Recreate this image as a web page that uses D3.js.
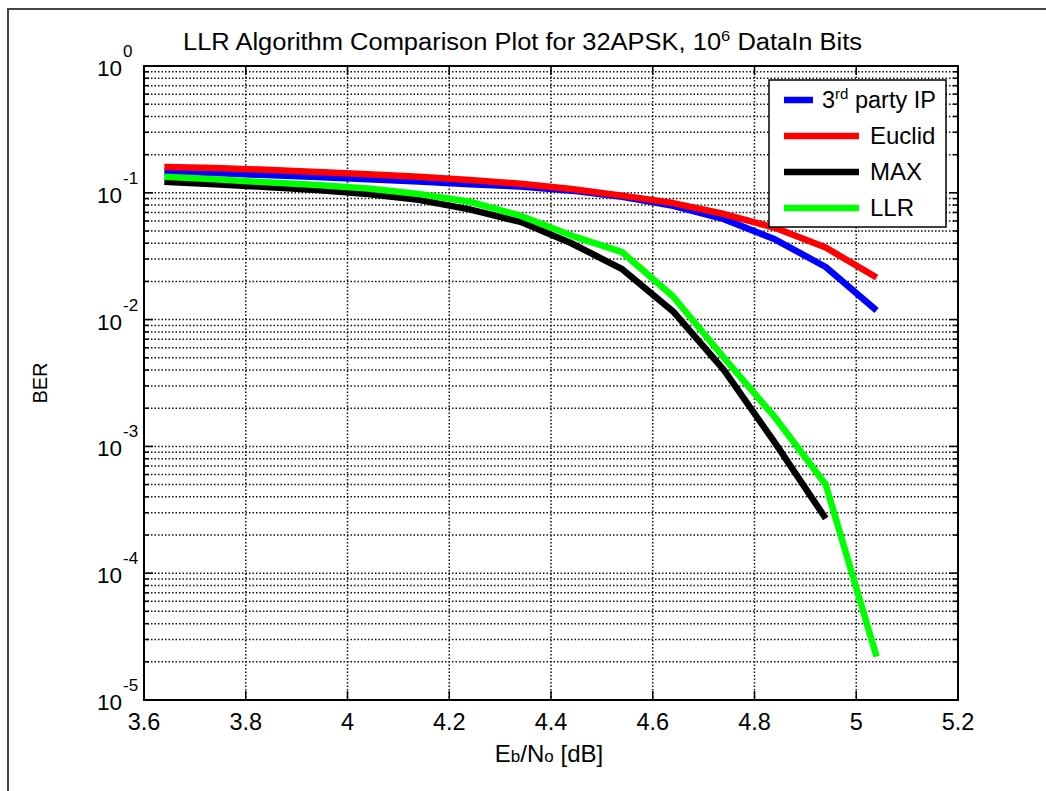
<!DOCTYPE html>
<html>
<head>
<meta charset="utf-8">
<script src="https://cdn.jsdelivr.net/npm/d3@7"></script>
<style>
  body { margin: 0; background: #fff; }
  text { font-family: "Liberation Sans", Arial, sans-serif; fill: #000; }
</style>
</head>
<body>
<svg id="chart" width="1046" height="791"></svg>
<script>
// Eb/No operating points [dB]
const ebno = [3.64, 3.74, 3.84, 3.94, 4.04, 4.14, 4.24, 4.34, 4.44, 4.54, 4.64, 4.74, 4.84, 4.94, 5.04];

// Bit error rates per demapper
const berThirdParty = [0.146, 0.143, 0.138, 0.133, 0.128, 0.123, 0.117, 0.112, 0.104, 0.093, 0.079, 0.062, 0.043, 0.026, 0.0118];
const berEuclid     = [0.160, 0.157, 0.152, 0.146, 0.140, 0.134, 0.126, 0.118, 0.107, 0.095, 0.083, 0.068, 0.053, 0.037, 0.0215];
const berMax        = [0.122, 0.117, 0.111, 0.105, 0.098, 0.088, 0.074, 0.059, 0.040, 0.025, 0.0116, 0.0040, 0.00107, 0.00027];
const berLlr        = [0.134, 0.128, 0.121, 0.115, 0.108, 0.098, 0.085, 0.066, 0.046, 0.034, 0.0152, 0.0050, 0.0017, 0.00050, 0.000022];

const seriesNames = ["3rd party IP", "Euclid", "MAX", "LLR"];
const seriesColors = ["#0000ff", "#ff0000", "#000000", "#00ff00"];
const seriesData = [berThirdParty, berEuclid, berMax, berLlr];

const xTicks = [3.6, 3.8, 4.0, 4.2, 4.4, 4.6, 4.8, 5.0, 5.2];
const xTickLabels = ["3.6", "3.8", "4", "4.2", "4.4", "4.6", "4.8", "5", "5.2"];
const yExponents = [0, -1, -2, -3, -4, -5];

const svg = d3.select("#chart");
const plot = { left: 144, top: 66, right: 958, bottom: 700 };

// outer figure frame
svg.append("rect")
  .attr("x", 8).attr("y", 9).attr("width", 1100).attr("height", 900)
  .attr("fill", "#fff").attr("stroke", "#444").attr("stroke-width", 2);

const x = d3.scaleLinear().domain([3.6, 5.2]).range([plot.left, plot.right]);
const y = d3.scaleLog().domain([1e-5, 1]).range([plot.bottom, plot.top]);

// grid values: decades plus 2..9 minors
const yGrid = [];
for (let k = -5; k <= 0; k++) {
  for (let m = 1; m <= 9; m++) {
    const v = m * Math.pow(10, k);
    if (v <= 1 && v >= 1e-5) yGrid.push({ v, major: m === 1 });
  }
}

const grid = svg.append("g").attr("stroke", "#111").attr("stroke-width", 1.5)
  .attr("stroke-dasharray", "1.5,2");
grid.selectAll("line.h").data(yGrid.filter(d => d.v < 1 && d.v > 1e-5)).join("line")
  .attr("class", "h")
  .attr("x1", plot.left).attr("x2", plot.right)
  .attr("y1", d => y(d.v)).attr("y2", d => y(d.v));
grid.selectAll("line.v").data(xTicks.slice(1, -1)).join("line")
  .attr("class", "v")
  .attr("x1", d => x(d)).attr("x2", d => x(d))
  .attr("y1", plot.top).attr("y2", plot.bottom);

// tick marks on all four sides
const ticks = svg.append("g").attr("stroke", "#000").attr("stroke-width", 1.5);
yGrid.forEach(d => {
  const len = d.major ? 9 : 5;
  const yy = y(d.v);
  ticks.append("line").attr("x1", plot.left).attr("x2", plot.left + len).attr("y1", yy).attr("y2", yy);
  ticks.append("line").attr("x1", plot.right).attr("x2", plot.right - len).attr("y1", yy).attr("y2", yy);
});
xTicks.forEach(t => {
  const xx = x(t);
  ticks.append("line").attr("x1", xx).attr("x2", xx).attr("y1", plot.bottom).attr("y2", plot.bottom - 9);
  ticks.append("line").attr("x1", xx).attr("x2", xx).attr("y1", plot.top).attr("y2", plot.top + 9);
});

// BER curves
const line = d3.line()
  .x((d, i) => x(ebno[i]))
  .y(d => y(d));

svg.append("g").selectAll("path").data(seriesData).join("path")
  .attr("d", d => line(d))
  .attr("fill", "none")
  .attr("stroke", (d, i) => seriesColors[i])
  .attr("stroke-width", 6.5)
  .attr("stroke-linejoin", "round");

// axes box
svg.append("rect")
  .attr("x", plot.left).attr("y", plot.top)
  .attr("width", plot.right - plot.left).attr("height", plot.bottom - plot.top)
  .attr("fill", "none").attr("stroke", "#000").attr("stroke-width", 2);

// x tick labels
svg.append("g").selectAll("text").data(xTicks).join("text")
  .attr("x", d => x(d)).attr("y", 730)
  .attr("text-anchor", "middle").attr("font-size", 23.5)
  .text((d, i) => xTickLabels[i]);

// y tick labels as 10^k
const yLab = svg.append("g");
yExponents.forEach(k => {
  const yy = y(Math.pow(10, k));
  yLab.append("text").attr("x", 122).attr("y", yy + 10)
    .attr("text-anchor", "end").attr("font-size", 22.5).text("10");
  yLab.append("text").attr("x", 123).attr("y", yy - 9)
    .attr("font-size", 17).text(String(k));
});

// title
const title = svg.append("text")
  .attr("x", 183).attr("y", 50)
  .attr("font-size", 23)
  .attr("textLength", 679).attr("lengthAdjust", "spacingAndGlyphs");
title.append("tspan").text("LLR Algorithm Comparison Plot for 32APSK, 10");
title.append("tspan").attr("font-size", 15).attr("dy", -9).text("6");
title.append("tspan").attr("dy", 9).text(" DataIn Bits");

// axis labels
const xl = svg.append("text").attr("x", 549).attr("y", 762)
  .attr("text-anchor", "middle").attr("font-size", 24);
xl.append("tspan").text("E");
xl.append("tspan").attr("font-size", 17).text("b");
xl.append("tspan").text("/N");
xl.append("tspan").attr("font-size", 17).text("o");
xl.append("tspan").text(" [dB]");

svg.append("text")
  .attr("transform", "translate(47,383) rotate(-90)")
  .attr("text-anchor", "middle").attr("font-size", 20)
  .text("BER");

// legend
const lg = svg.append("g");
lg.append("rect").attr("x", 769).attr("y", 80).attr("width", 177).attr("height", 147)
  .attr("fill", "#fff").attr("stroke", "#000").attr("stroke-width", 1.5);
const legendRows = [100, 136, 172, 208];
seriesNames.forEach((name, i) => {
  const yy = legendRows[i];
  const x2 = i === 0 ? 813 : 859;
  lg.append("line").attr("x1", 784).attr("x2", x2).attr("y1", yy).attr("y2", yy)
    .attr("stroke", seriesColors[i]).attr("stroke-width", 6.5);
  if (i === 0) {
    const t = lg.append("text").attr("x", 822).attr("y", yy + 8).attr("font-size", 23.5);
    t.append("tspan").text("3");
    t.append("tspan").attr("font-size", 15).attr("dy", -9).text("rd");
    t.append("tspan").attr("dy", 9).text(" party IP");
  } else {
    lg.append("text").attr("x", 870).attr("y", yy + 8).attr("font-size", 24).text(name);
  }
});
</script>
</body>
</html>
